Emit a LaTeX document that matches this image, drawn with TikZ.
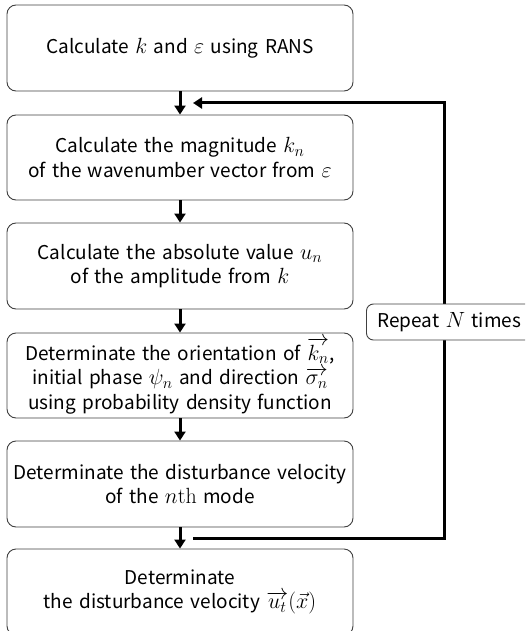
\RequirePackage{fix-cm}
\documentclass[tikz,border=0pt]{standalone}
\usepackage{amsmath}
\usepackage[no-math]{fontspec}
\setmainfont[WordSpace=1.5]{Noto Sans CJK JP}
\DeclareMathSizes{19}{22}{16}{12}
\usetikzlibrary{arrows.meta}
\tikzset{
  stepbox/.style={draw=black!75, line width=0.9pt, rounded corners=9pt, fill=white,
    minimum width=346pt, minimum height=86pt, inner sep=0pt, align=center,
    font=\fontsize{19}{24.5}\selectfont},
  flow/.style={line width=3pt, -{Triangle[width=11pt,length=9pt]}},
  loopline/.style={line width=3pt, line join=miter},
  repbox/.style={draw=black!75, line width=0.9pt, rounded corners=7pt, fill=white,
    anchor=west, minimum height=36pt, inner xsep=11pt, inner ysep=0pt,
    text width=160pt, align=left, font=\fontsize{19}{24}\selectfont}
}
\begin{document}
\begin{tikzpicture}[x=1pt,y=-1pt]
\clip (0,0) rectangle (525,631);
\node[stepbox] (b1) at (180,48) {Calculate $k$ and $\varepsilon$ using RANS};
\node[stepbox, minimum height=85pt] (b2) at (180,157.5) {Calculate the magnitude $k_n$\\of the wavenumber vector from $\varepsilon$};
\node[stepbox] (b3) at (180,266) {Calculate the absolute value $u_n$\\of the amplitude from $k$};
\node[stepbox, minimum height=85pt] (b4) at (180,375.5) {Determinate the orientation of $\overrightarrow{k_n}$,\\initial phase $\psi_n$ and direction $\overrightarrow{\sigma_n}$\\using probability density function};
\node[stepbox] (b5) at (180,484) {Determinate the disturbance velocity\\of the $n\mathrm{th}$ mode};
\node[stepbox] (b6) at (180,592) {Determinate\\the disturbance velocity $\overrightarrow{u_t}(\vec{x})$};
\draw[flow] (b1) -- (b2);
\draw[flow] (b2) -- (b3);
\draw[flow] (b3) -- (b4);
\draw[flow] (b4) -- (b5);
\draw[flow] (b5) -- (b6);
\coordinate (loopout) at (193,538);
\coordinate (corner) at (444,538);
\coordinate (loopin) at (193,103);
\draw[loopline, -{Triangle[width=11pt,length=9pt]}] (loopout) -- (corner) |- (loopin);
\node[repbox] (rep) at (366,322) {Repeat $N$ times};
\end{tikzpicture}
\end{document}
